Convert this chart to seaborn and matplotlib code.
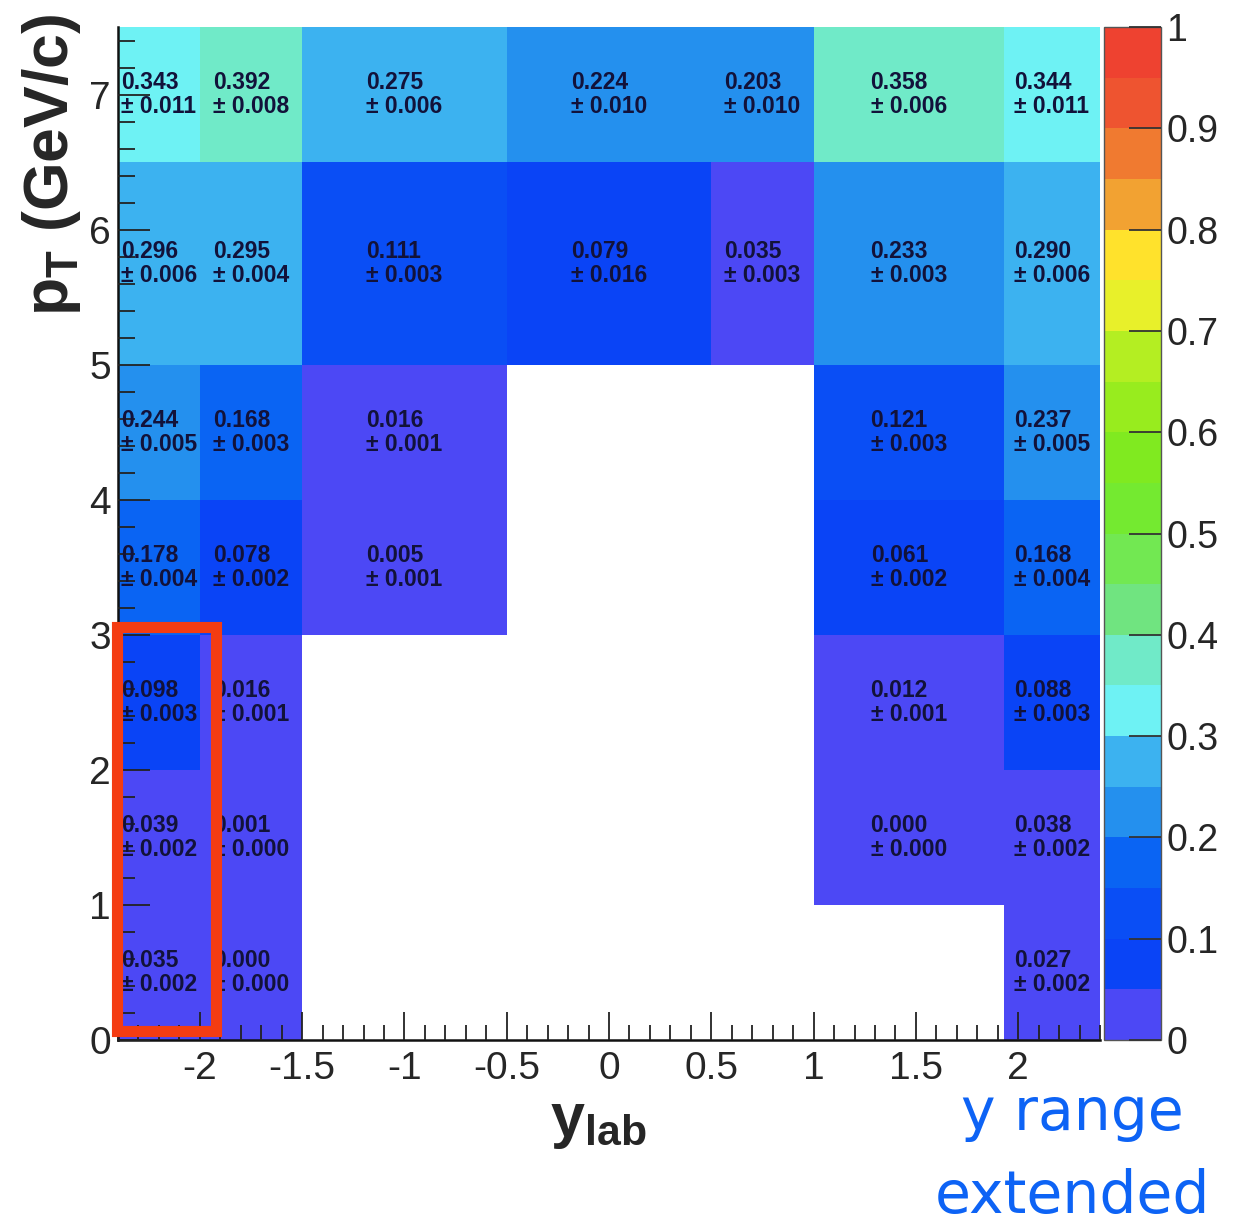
import numpy as np
import pandas as pd
import matplotlib
matplotlib.use("Agg")
import matplotlib.pyplot as plt
from matplotlib.colors import ListedColormap
from matplotlib.patches import Rectangle
from matplotlib.ticker import MultipleLocator, FuncFormatter
import seaborn as sns

# ---- binning -------------------------------------------------------------
ylab_edges = [-2.4, -2.0, -1.5, -0.5, 0.5, 1.0, 1.93, 2.4]
pt_edges = [0.0, 1.0, 2.0, 3.0, 4.0, 5.0, 6.5, 7.5]

# ---- efficiency and uncertainty per rapidity bin, from low to high pT ------
# (nan = bin not filled)
nan = np.nan
eff_y1 = [0.035, 0.039, 0.098, 0.178, 0.244, 0.296, 0.343]
err_y1 = [0.002, 0.002, 0.003, 0.004, 0.005, 0.006, 0.011]
eff_y2 = [0.000, 0.001, 0.016, 0.078, 0.168, 0.295, 0.392]
err_y2 = [0.000, 0.000, 0.001, 0.002, 0.003, 0.004, 0.008]
eff_y3 = [nan, nan, nan, 0.005, 0.016, 0.111, 0.275]
err_y3 = [nan, nan, nan, 0.001, 0.001, 0.003, 0.006]
eff_y4 = [nan, nan, nan, nan, nan, 0.079, 0.224]
err_y4 = [nan, nan, nan, nan, nan, 0.016, 0.010]
eff_y5 = [nan, nan, nan, nan, nan, 0.035, 0.203]
err_y5 = [nan, nan, nan, nan, nan, 0.003, 0.010]
eff_y6 = [nan, 0.000, 0.012, 0.061, 0.121, 0.233, 0.358]
err_y6 = [nan, 0.000, 0.001, 0.002, 0.003, 0.003, 0.006]
eff_y7 = [0.027, 0.038, 0.088, 0.168, 0.237, 0.290, 0.344]
err_y7 = [0.002, 0.002, 0.003, 0.004, 0.005, 0.006, 0.011]

eff_cols = [eff_y1, eff_y2, eff_y3, eff_y4, eff_y5, eff_y6, eff_y7]
err_cols = [err_y1, err_y2, err_y3, err_y4, err_y5, err_y6, err_y7]

# ROOT-like rainbow palette, 20 contour levels between 0 and 1
palette_colors = [
    "#4c48f5", "#0a44f6", "#0a4ef5", "#0a64f3", "#2490ee",
    "#3cb2f0", "#6ef2f4", "#70eac8", "#70e480", "#72e852",
    "#74ea30", "#80ea20", "#98ec1e", "#b4ee22", "#e8f02a",
    "#ffe22c", "#f2a232", "#f07a30", "#ee5430", "#ee4230",
]

# long-form table: one row per filled bin
rows = []
for i, (effs, errs) in enumerate(zip(eff_cols, err_cols)):
    yc = 0.5 * (ylab_edges[i] + ylab_edges[i + 1])
    for j, (e, de) in enumerate(zip(effs, errs)):
        if np.isnan(e):
            continue
        pc = 0.5 * (pt_edges[j] + pt_edges[j + 1])
        rows.append({"ylab": yc, "pt": pc, "eff": e, "err": de})
df = pd.DataFrame(rows)

# ---- style ---------------------------------------------------------------
sns.set_style("white")
plt.rcParams["font.family"] = ["Liberation Sans", "DejaVu Sans"]
plt.rcParams["mathtext.fontset"] = "custom"
plt.rcParams["mathtext.bf"] = "Liberation Sans:bold"
plt.rcParams["mathtext.rm"] = "Liberation Sans"
plt.rcParams["axes.axisbelow"] = False

fig = plt.figure(figsize=(12.49, 12.24), dpi=100)
ax = fig.add_axes([0.0945, 0.1503, 0.7862, 0.8276])
cax = fig.add_axes([0.8839, 0.1503, 0.0456, 0.8276])

cmap = ListedColormap(palette_colors)

sns.histplot(
    data=df, x="ylab", y="pt", weights="eff",
    bins=[ylab_edges, pt_edges], thresh=None,
    cmap=cmap, vmin=0.0, vmax=1.0,
    cbar=True, cbar_ax=cax, ax=ax,
)

# leave bins without entries blank
mesh = ax.collections[0]
counts, _, _ = np.histogram2d(df["ylab"], df["pt"], bins=[ylab_edges, pt_edges])
mesh.set_array(np.ma.masked_where(counts.T == 0, np.asarray(mesh.get_array())))

# bin contents as text
for _, r in df.iterrows():
    ax.text(r["ylab"], r["pt"], f"{r['eff']:.3f}\n\u00b1 {r['err']:.3f}",
            ha="center", va="center", multialignment="left",
            fontsize=16.5, fontweight="bold", color="#12123a",
            linespacing=1.05, zorder=3)

# ---- axes ----------------------------------------------------------------
ax.set_axisbelow(False)
ax.set_xlim(-2.4, 2.4)
ax.set_ylim(0, 7.5)
ax.set_xlabel("")
ax.set_ylabel("")
ax.xaxis.set_major_locator(MultipleLocator(0.5))
ax.xaxis.set_minor_locator(MultipleLocator(0.1))
ax.yaxis.set_major_locator(MultipleLocator(1))
ax.yaxis.set_minor_locator(MultipleLocator(0.2))
ax.xaxis.set_major_formatter(FuncFormatter(lambda v, _: f"{v:g}"))
ax.tick_params(axis="both", which="both", direction="in", color="#222222",
               width=1.3, bottom=True, left=True, top=False, right=False)
ax.tick_params(axis="x", which="major", length=20, labelsize=28, pad=8)
ax.tick_params(axis="x", which="minor", length=11)
ax.tick_params(axis="y", which="major", length=23, labelsize=28, pad=5)
ax.tick_params(axis="y", which="minor", length=12)
for side in ("top", "right"):
    ax.spines[side].set_visible(False)
for side in ("left", "bottom"):
    ax.spines[side].set_linewidth(1.8)
    ax.spines[side].set_color("#111111")
ax.grid(False)

# ---- colour bar ----------------------------------------------------------
cax.set_axisbelow(False)
cax.yaxis.set_ticks(np.arange(0, 1.0001, 0.1))
cax.yaxis.set_major_formatter(FuncFormatter(lambda v, _: f"{v:g}"))
cax.minorticks_off()
cax.tick_params(axis="y", which="major", direction="in", length=23, width=1.3,
                color="#333333", labelsize=27, pad=4,
                right=True, left=False, labelright=True, labelleft=False)
mesh.colorbar.outline.set_linewidth(1.0)
mesh.colorbar.outline.set_edgecolor("#555555")

# ---- titles and annotations ----------------------------------------------
fig.text(52 / 1249, 1 - 14 / 1224, r"$\mathbf{p}_{\mathbf{T}}$ (GeV/c)",
         rotation=90, ha="center", va="top", fontsize=45, fontweight="bold")
fig.text(598 / 1249, 1 - 1136 / 1224, r"$\mathbf{y}_{\mathbf{lab}}$",
         ha="center", va="baseline", fontsize=44)

ax.add_patch(Rectangle((-2.407, 0.067), 0.486, 2.99, fill=False,
                       edgecolor="#f43c12", linewidth=8, clip_on=False, zorder=5))

fig.text(1072 / 1249, 1 - 1130 / 1224, "y range", ha="center", va="baseline",
         fontsize=42, color="#0d63f5", family="DejaVu Sans")
fig.text(1072 / 1249, 1 - 1213 / 1224, "extended", ha="center", va="baseline",
         fontsize=42, color="#0d63f5", family="DejaVu Sans")

fig.savefig("out.png", dpi=100)
